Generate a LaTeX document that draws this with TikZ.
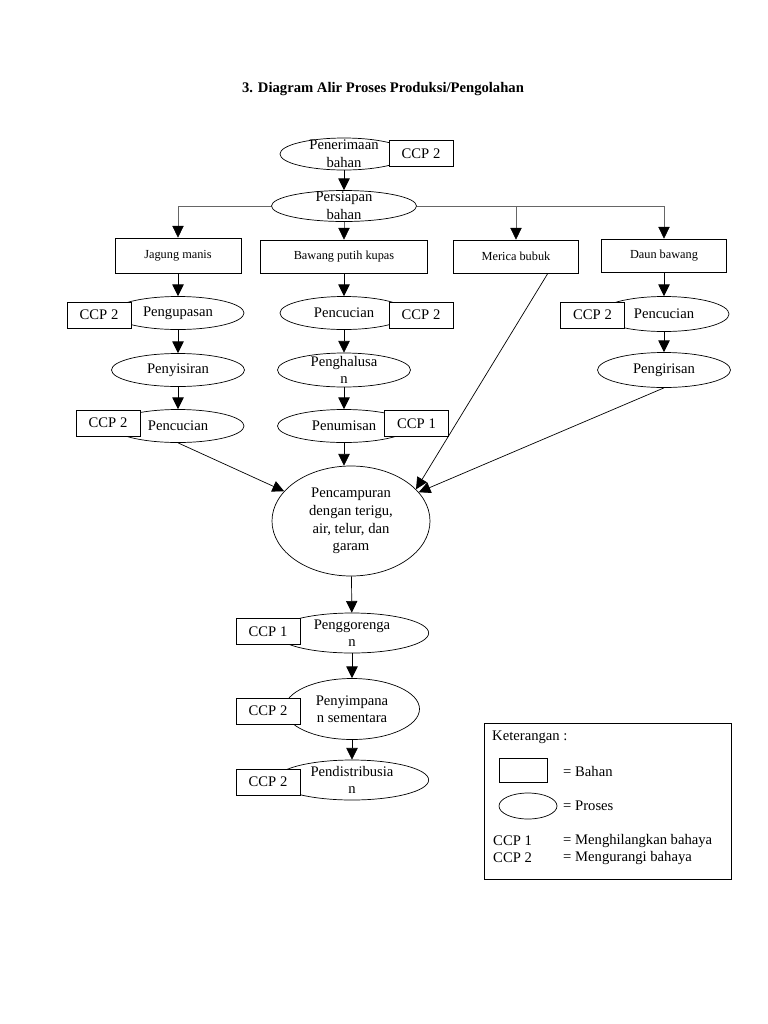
\documentclass[tikz,border=0pt]{standalone}
\usepackage{fontspec}
\setmainfont{Liberation Serif}
\usetikzlibrary{arrows.meta}
\usetikzlibrary{shapes.geometric}

\begin{document}
\begin{tikzpicture}[x=0.03cm, y=-0.03cm,
  proc/.style={ellipse, draw, fill=white, line width=0.6pt, inner xsep=0pt, inner ysep=-6pt, align=center, font=\fontsize{12.5}{15}\selectfont},
  bahan/.style={rectangle, draw, fill=white, line width=0.7pt, inner sep=0pt, font=\fontsize{10.5}{12}\selectfont},
  ccp/.style={rectangle, draw, fill=white, line width=0.7pt, minimum width=1.92cm, minimum height=0.78cm, inner sep=0pt, font=\fontsize{12.5}{15}\selectfont},
  arr/.style={line width=0.6pt, -{Triangle[length=3.5mm, width=3.4mm]}},
  cabang/.style={draw=black!60, line width=0.5pt, -{Triangle[length=3.5mm, width=3.4mm, color=black]}},
  ket/.style={anchor=west, inner sep=0pt, font=\fontsize{12.5}{15}\selectfont}]

\fill[white] (0,0) rectangle (768,1024);
\useasboundingbox (0,0) rectangle (768,1024);

\node[font=\bfseries\fontsize{12.5}{15}\selectfont] (judul) at (383,89) {3. Diagram Alir Proses Produksi/Pengolahan};

\node[proc, minimum width=3.84cm, minimum height=0.96cm] (terima) at (344,154) {Penerimaan\\bahan};
\node[ccp] (ccpterima) at (421,153.5) {CCP 2};
\node[proc, minimum width=4.35cm, minimum height=0.93cm] (siap) at (344,206) {Persiapan\\bahan};

\node[bahan, minimum width=3.78cm, minimum height=1.05cm] (jagung) at (178,255.5) {Jagung manis};
\node[bahan, minimum width=5.01cm, minimum height=0.99cm] (bawang) at (344,256.5) {Bawang putih kupas};
\node[bahan, minimum width=3.75cm, minimum height=0.99cm] (merica) at (516,256.5) {Merica bubuk};
\node[bahan, minimum width=3.75cm, minimum height=0.99cm] (daun) at (664,255.5) {Daun bawang};

\node[proc, minimum width=3.96cm, minimum height=0.99cm] (kupas) at (178,313) {Pengupasan};
\node[ccp] (ccpkupas) at (99,315) {CCP 2};
\node[proc, minimum width=3.84cm, minimum height=0.99cm] (cucisatu) at (344,313) {Pencucian};
\node[ccp] (ccpcucisatu) at (421,315) {CCP 2};
\node[proc, minimum width=3.9cm, minimum height=1.05cm] (cucitiga) at (664,314) {Pencucian};
\node[ccp] (ccpcucitiga) at (592.5,315) {CCP 2};

\node[proc, minimum width=3.99cm, minimum height=0.99cm] (sisir) at (178,370) {Penyisiran};
\node[proc, minimum width=3.99cm, minimum height=1.02cm] (halus) at (344,370) {Penghalusa\\n};
\node[proc, minimum width=3.99cm, minimum height=1.05cm] (iris) at (664,370) {Pengirisan};

\node[proc, minimum width=3.96cm, minimum height=0.99cm] (cucidua) at (178,426) {Pencucian};
\node[ccp] (ccpcucidua) at (108,423) {CCP 2};
\node[proc, minimum width=3.99cm, minimum height=0.99cm] (tumis) at (344,426) {Penumisan};
\node[ccp] (ccptumis) at (416.5,423.5) {CCP 1};

\node[proc, minimum width=4.74cm, minimum height=3.3cm] (campur) at (351,521) {Pencampuran\\dengan terigu,\\air, telur, dan\\garam};

\node[proc, minimum width=4.6cm, minimum height=1.2cm] (goreng) at (352,633) {Penggorenga\\n};
\node[ccp] (ccpgoreng) at (268,631.5) {CCP 1};
\node[proc, minimum width=4.05cm, minimum height=1.83cm] (simpan) at (352,709) {Penyimpana\\n sementara};
\node[ccp] (ccpsimpan) at (268,711) {CCP 2};
\node[proc, minimum width=4.6cm, minimum height=1.2cm] (distribusi) at (352,780) {Pendistribusia\\n};
\node[ccp] (ccpdistribusi) at (268,782) {CCP 2};

\draw[arr] (terima) -- (siap);
\draw[cabang] (siap.west) -| (jagung.north);
\draw[cabang] (siap) -- (bawang);
\draw[cabang] (siap.east) -| (daun.north);
\draw[cabang] (siap.east -| merica.north) -- (merica.north);

\draw[arr] (jagung) -- (kupas);
\draw[arr] (kupas) -- (sisir);
\draw[arr] (sisir) -- (cucidua);
\draw[arr] (bawang) -- (cucisatu);
\draw[arr] (cucisatu) -- (halus);
\draw[arr] (halus) -- (tumis);
\draw[arr] (daun) -- (cucitiga);
\draw[arr] (cucitiga) -- (iris);

\draw[arr] (cucidua.south) -- (campur.156);
\draw[arr] (tumis.south) -- (tumis.south |- campur.north);
\draw[arr] (merica.-28) -- (campur.26);
\draw[arr] (iris.south) -- (campur.23);

\draw[arr] (campur) -- (goreng);
\draw[arr] (goreng) -- (simpan);
\draw[arr] (simpan) -- (distribusi);

\node[draw, line width=0.7pt, minimum width=7.41cm, minimum height=4.68cm] (keterangan) at (607.5,801) {};
\node[ket] (ketjudul) at (492,737) {Keterangan :};
\node[bahan, minimum width=1.44cm, minimum height=0.72cm] (ketbahan) at (523,770) {};
\node[ket] (ketbahantxt) at (563,771) {= Bahan};
\node[proc, minimum width=1.74cm, minimum height=0.78cm] (ketproses) at (528,806) {};
\node[ket] (ketprosestxt) at (563,806) {= Proses};
\node[ket] (ketccpsatu) at (493,841) {CCP 1};
\node[ket] (ketccpsatutxt) at (563,841) {= Menghilangkan bahaya};
\node[ket] (ketccpdua) at (493,858) {CCP 2};
\node[ket] (ketccpduatxt) at (563,858) {= Mengurangi bahaya};

\end{tikzpicture}
\end{document}
